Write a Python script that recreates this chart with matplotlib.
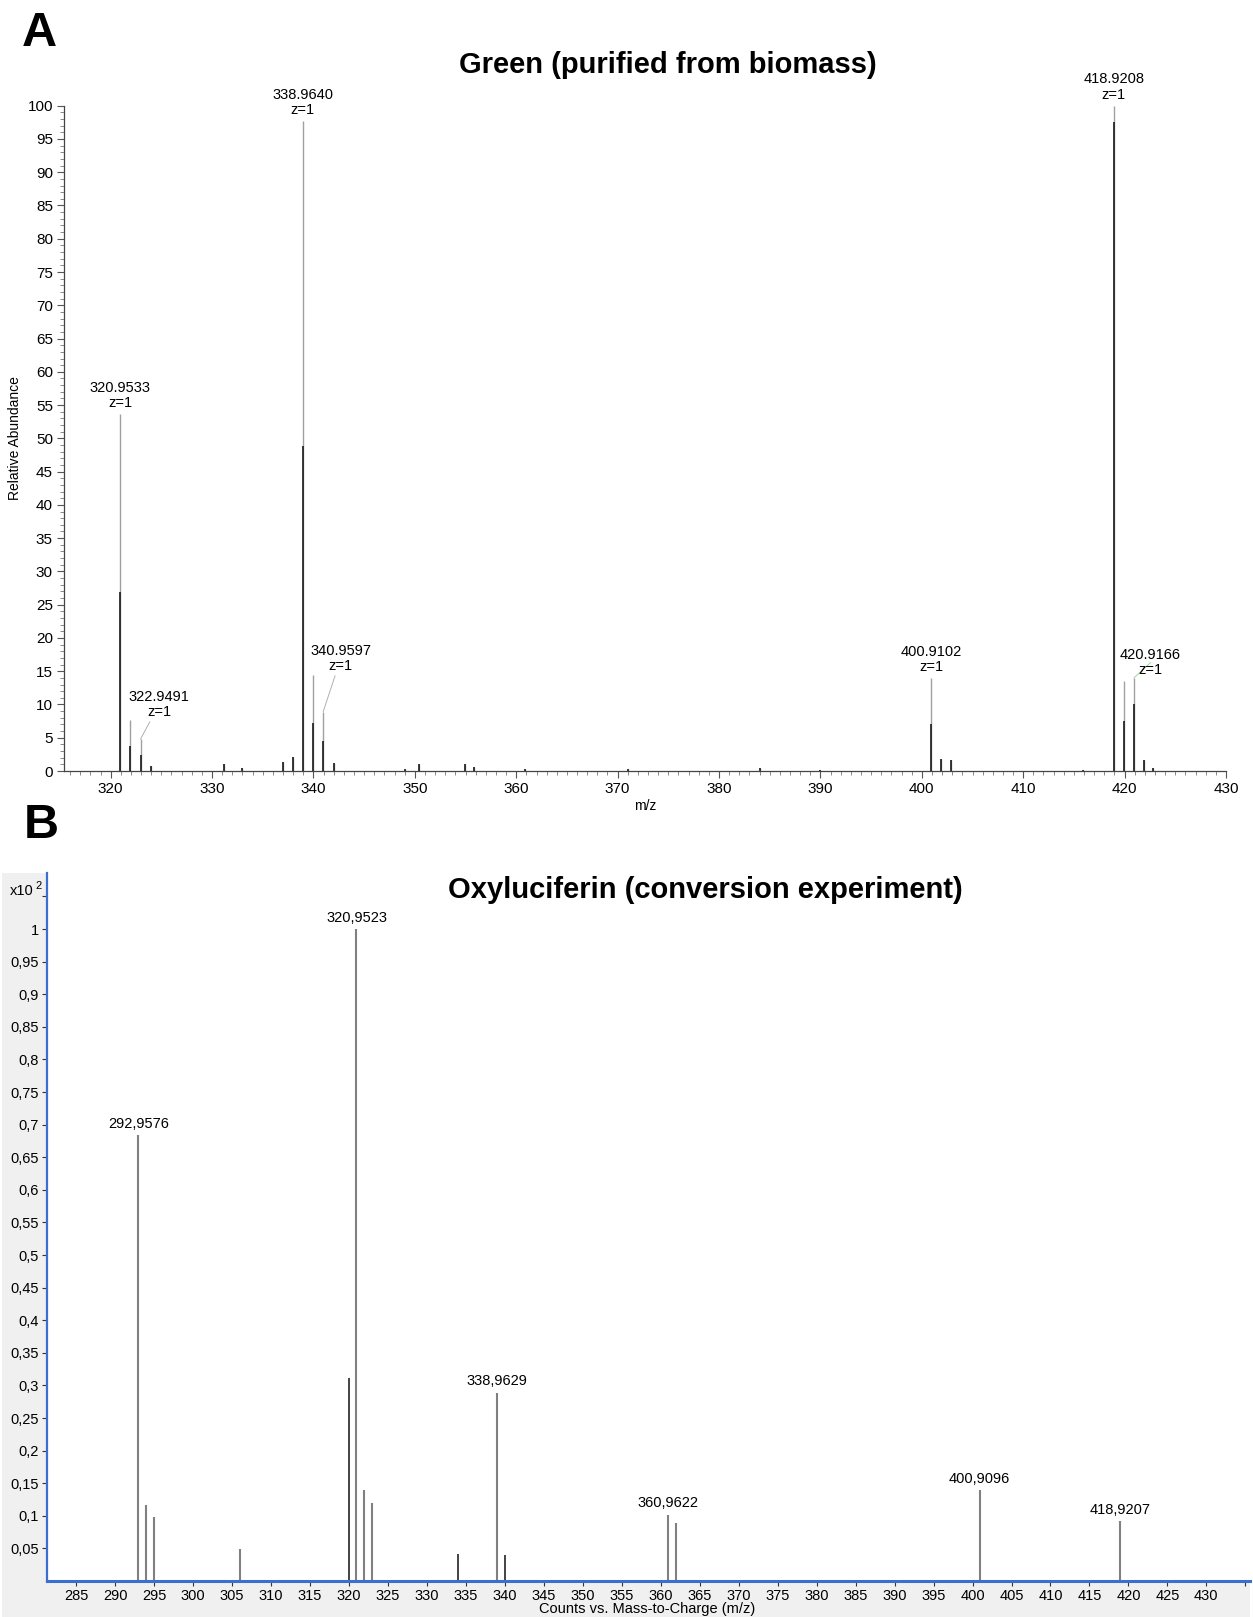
import numpy as np
import matplotlib
matplotlib.use("Agg")
import matplotlib.pyplot as plt
from matplotlib.ticker import MultipleLocator, FixedLocator, FuncFormatter
from matplotlib.patches import Rectangle

plt.rcParams['font.family'] = ['Liberation Sans', 'DejaVu Sans']

# ---- panel A data (relative abundance) ----
mz_a = [320.95, 321.95, 322.95, 324.0, 331.2, 333.0, 337.0, 338.0, 338.96, 339.96,
        340.96, 342.0, 349.0, 350.4, 354.9, 355.8, 360.9, 371.0, 384.0, 390.0,
        400.91, 401.91, 402.91, 415.9, 418.92, 419.92, 420.92, 421.92, 422.8]
ab_a = [53.6, 7.6, 4.8, 0.8, 1.0, 0.5, 1.4, 2.1, 97.7, 14.4,
        8.9, 1.25, 0.3, 1.0, 1.0, 0.6, 0.3, 0.3, 0.5, 0.2,
        14.0, 1.8, 1.65, 0.2, 100.0, 13.6, 14.0, 1.65, 0.5]
core_a = [26.9, 3.8, 2.4, 0.8, 1.0, 0.5, 1.4, 2.1, 48.9, 7.2,
          4.5, 1.25, 0.3, 1.0, 1.0, 0.6, 0.3, 0.3, 0.5, 0.2,
          7.0, 1.8, 1.65, 0.2, 97.5, 7.5, 10.0, 1.65, 0.5]

lab_a_mz = [320.95, 322.95, 338.96, 340.96, 400.91, 418.92, 420.92]
lab_a_h = [53.6, 4.8, 97.7, 8.9, 14.0, 100.0, 14.0]
lab_a_txt = ["320.9533\nz=1", "322.9491\nz=1", "338.9640\nz=1", "340.9597\nz=1",
             "400.9102\nz=1", "418.9208\nz=1", "420.9166\nz=1"]

# ---- panel B data (counts x10^2) ----
mz_b = [292.96, 293.96, 294.96, 305.96, 319.95, 320.95, 321.95, 322.95,
        333.95, 338.96, 339.96, 360.96, 361.96, 400.91, 418.92]
cnt_b = [0.684, 0.117, 0.098, 0.049, 0.312, 1.0, 0.14, 0.119,
         0.041, 0.289, 0.040, 0.102, 0.089, 0.14, 0.092]
dark_b = [False, False, False, False, True, False, False, False,
          True, False, True, False, False, False, False]

lab_b_mz = [292.96, 320.95, 338.96, 360.96, 400.91, 418.92]
lab_b_h = [0.684, 1.0, 0.289, 0.102, 0.14, 0.092]
lab_b_txt = ["292,9576", "320,9523", "338,9629", "360,9622", "400,9096", "418,9207"]

W, H = 1253, 1617
fig = plt.figure(figsize=(W / 100, H / 100), dpi=100)


def fx(px):
    return px / W


def fy(py):
    return 1 - py / H


# ================= Panel A =================
ax1 = fig.add_axes([fx(64), fy(771), fx(1226) - fx(64), fy(105.7) - fy(771)])
ax1.vlines(mz_a, 0, ab_a, color='#a0a0a0', lw=1.0)
ax1.vlines(mz_a, 0, core_a, color='#1a1a1a', lw=1.2)
ax1.set_xlim(315.4, 430.0)
ax1.set_ylim(0, 100)
for s in ['top', 'right']:
    ax1.spines[s].set_visible(False)
ax1.spines['left'].set_bounds(0, 100)
ax1.spines['left'].set_color('#444444')
ax1.spines['bottom'].set_color('#444444')
ax1.spines['left'].set_linewidth(0.9)
ax1.spines['bottom'].set_linewidth(0.9)
ax1.xaxis.set_major_locator(MultipleLocator(10))
ax1.xaxis.set_minor_locator(MultipleLocator(1))
ax1.yaxis.set_major_locator(MultipleLocator(5))
ax1.yaxis.set_minor_locator(MultipleLocator(1))
ax1.tick_params(which='major', length=5, width=0.8, color='#555555', labelsize=11, pad=3)
ax1.tick_params(which='minor', length=3, width=0.6, color='#777777')
ax1.set_ylabel("Relative Abundance", fontsize=10, labelpad=4)
ax1.set_xlabel("m/z", fontsize=10, labelpad=2)
ax1.patch.set_alpha(0)

# label offsets in points (dx, dy); these labels get a leader line
offs_a = {322.95: (13.4, 14.5), 340.96: (12.7, 28.0), 420.92: (12.0, 0.5)}
for m, h, t in zip(lab_a_mz, lab_a_h, lab_a_txt):
    if m in offs_a:
        dx, dy = offs_a[m]
        col = '#9fd39f' if m == 420.92 else '#b0b0b0'
        ax1.annotate(t, xy=(m, h), xytext=(dx, dy), textcoords='offset points',
                     ha='center', va='bottom', fontsize=10.5, linespacing=1.1,
                     arrowprops=dict(arrowstyle='-', color=col, lw=0.7,
                                     shrinkA=0, shrinkB=0))
    else:
        ax1.annotate(t, xy=(m, h), xytext=(0, 3), textcoords='offset points',
                     ha='center', va='bottom', fontsize=10.5, linespacing=1.1)

fig.text(fx(668), fy(65), "Green (purified from biomass)", ha='center', va='center',
         fontsize=21, fontweight='bold')
fig.text(fx(39), fy(33), "A", ha='center', va='center', fontsize=35, fontweight='bold')

# ================= Panel B =================
bg = Rectangle((fx(2), 0), fx(1250) - fx(2), fy(873), transform=fig.transFigure,
               facecolor='#f0f0f0', edgecolor='none', zorder=-5)
fig.add_artist(bg)
ax2 = fig.add_axes([fx(46.7), fy(1581), fx(1250) - fx(46.7), fy(873) - fy(1581)])
ax2.set_zorder(2)
ax2.set_facecolor('white')
cols = ['#111111' if d else '#808080' for d in dark_b]
widths = [1.1 if d else 1.5 for d in dark_b]
ax2.vlines(mz_b, 0, cnt_b, colors=cols, linewidths=widths)
ax2.set_xlim(281.2, 435.6)
ax2.set_ylim(0, 1.086)
for s in ['top', 'right']:
    ax2.spines[s].set_visible(False)
ax2.spines['left'].set_color('#3a6fd0')
ax2.spines['left'].set_linewidth(1.6)
ax2.spines['bottom'].set_color('#3a6fd0')
ax2.spines['bottom'].set_linewidth(2.2)
ax2.xaxis.set_major_locator(FixedLocator(np.arange(285, 436, 5)))
ax2.xaxis.set_major_formatter(FuncFormatter(lambda v, p: "" if v > 432 else "%d" % v))
ax2.yaxis.set_major_locator(FixedLocator(np.round(np.arange(0.05, 1.06, 0.05), 2)))
ax2.yaxis.set_major_formatter(FuncFormatter(
    lambda v, p: "" if v > 1.01 else ("%g" % round(v, 2)).replace('.', ',')))
ax2.tick_params(axis='both', length=3.5, width=0.8, color='#333333', labelsize=10.5, pad=2)

for m, h, t in zip(lab_b_mz, lab_b_h, lab_b_txt):
    ax2.annotate(t, xy=(m, h), xytext=(0, 3), textcoords='offset points',
                 ha='center', va='bottom', fontsize=10.5)

fig.text(fx(34), fy(891), "x10", ha='right', va='center', fontsize=10.5, zorder=3)
fig.text(fx(35), fy(886), "2", ha='left', va='center', fontsize=8, zorder=3)
fig.text(fx(647), fy(1609), "Counts vs. Mass-to-Charge (m/z)", ha='center', va='center',
         fontsize=10.5, zorder=3)
fig.text(fx(705), fy(890), "Oxyluciferin (conversion experiment)", ha='center', va='center',
         fontsize=21, fontweight='bold', zorder=3)
fig.text(fx(41), fy(825), "B", ha='center', va='center', fontsize=35, fontweight='bold')

fig.savefig("out.png", dpi=100)
